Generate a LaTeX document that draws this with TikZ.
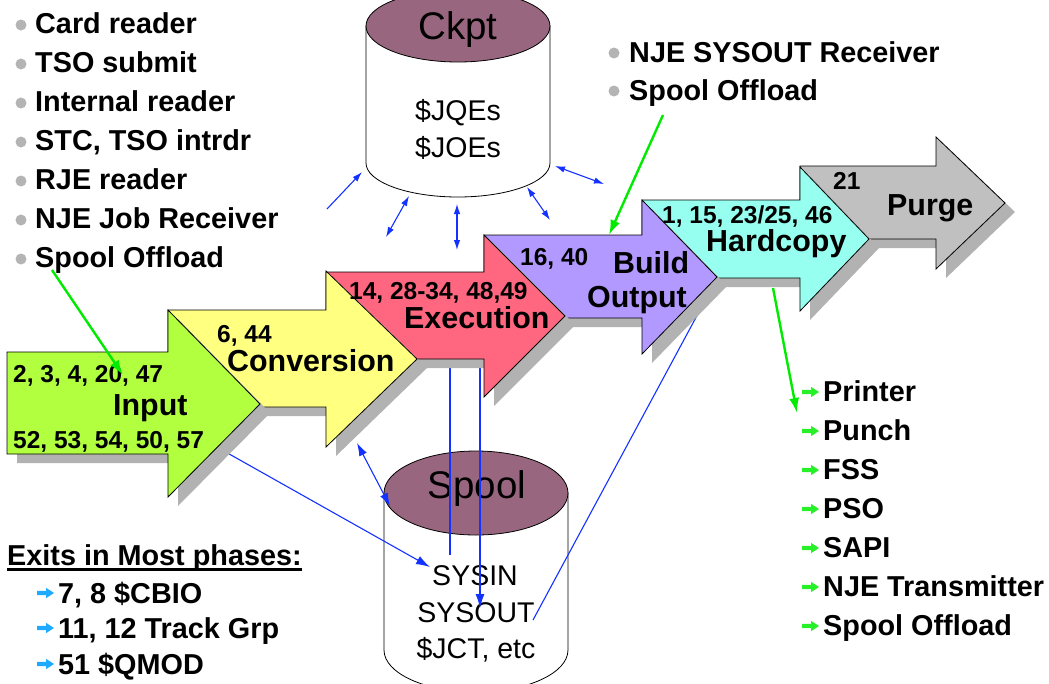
\documentclass[tikz,border=0pt]{standalone}
\usepackage{fontspec}
\setmainfont{Liberation Sans}
\usetikzlibrary{arrows.meta}
\definecolor{cInput}{RGB}{178,255,64}
\definecolor{cConv}{RGB}{255,255,128}
\definecolor{cExec}{RGB}{255,102,128}
\definecolor{cBuild}{RGB}{178,153,255}
\definecolor{cHard}{RGB}{150,255,240}
\definecolor{cPurge}{RGB}{192,192,192}
\definecolor{cShadow}{RGB}{178,178,178}
\definecolor{cCyl}{RGB}{153,102,128}
\definecolor{cBlue}{RGB}{20,50,255}
\definecolor{cGreen}{RGB}{0,235,0}
\definecolor{cIconG}{RGB}{40,240,40}
\definecolor{cIconB}{RGB}{30,170,255}
\definecolor{cDot}{RGB}{180,180,180}
\newcommand{\phasearrow}[2]{%
  \fill[cShadow, shift={(10,9)}] #2;
  \draw[fill=#1, line width=0.8pt] #2;
}
\newcommand{\iconarrow}[3]{%
  \fill[#1, shift={(#2,#3)}] (0,-2.2) -- (9,-2.2) -- (9,-5.2) -- (17,0) -- (9,5.2) -- (9,2.2) -- (0,2.2) -- cycle;
}
\begin{document}
\begin{tikzpicture}[x=1pt,y=-1pt,
  lab/.style={font=\fontsize{30.4}{32}\selectfont\bfseries, inner sep=0pt, anchor=base west},
  num/.style={font=\fontsize{24.5}{26}\selectfont\bfseries, inner sep=0pt, anchor=base west},
  item/.style={font=\fontsize{28.8}{30}\selectfont\bfseries, inner sep=0pt, anchor=base west},
  cyltext/.style={font=\fontsize{28.5}{30}\selectfont, inner sep=0pt, anchor=base},
  cyltitle/.style={font=\fontsize{38.5}{40}\selectfont, inner sep=0pt, anchor=base},
  dotmark/.style={fill=cDot, draw=none},
  bconn/.style={draw=cBlue, line width=1.1pt},
  bhead/.style={bconn, -{Latex[length=14pt,width=9pt]}},
  bsmall/.style={bconn, -{Latex[length=10pt,width=6.5pt]}},
  bboth/.style={bconn, {Latex[length=10pt,width=6.5pt]}-{Latex[length=10pt,width=6.5pt]}},
  bbothbig/.style={bconn, {Latex[length=13pt,width=8.5pt]}-{Latex[length=13pt,width=8.5pt]}},
  gconn/.style={draw=cGreen, line width=2.4pt, -{Latex[length=15pt,width=10pt]}},
]
\useasboundingbox (0,0) rectangle (1049,683);
\clip (0,0) rectangle (1049,683);

% ---------- cylinders ----------
\draw[fill=white, line width=0.8pt] (366,26) -- (366,163)
  arc[start angle=180, end angle=360, x radius=92pt, y radius=34pt] -- (550,26) -- cycle;
\draw[fill=cCyl, line width=0.8pt] (458,26) ellipse [x radius=92pt, y radius=36pt];
\node[cyltitle] (ckpt) at (458,39) {Ckpt};
\node[cyltext] (jqe) at (458,120) {\$JQEs};
\node[cyltext] (joe) at (458,157) {\$JOEs};

\draw[fill=white, line width=0.8pt] (384,493) -- (384,650)
  arc[start angle=180, end angle=360, x radius=92pt, y radius=42pt] -- (568,493) -- cycle;
\draw[fill=cCyl, line width=0.8pt] (476,493) ellipse [x radius=92pt, y radius=42pt];
\node[cyltitle] (spool) at (477,498) {Spool};
\node[cyltext] (sysin) at (475,585) {SYSIN};
\node[cyltext] (sysout) at (476,622) {SYSOUT};
\node[cyltext] (jct) at (476,658) {\$JCT, etc};

% ---------- blue connectors ----------
\coordinate (b1s) at (327,209); \coordinate (b1e) at (362,172);
\coordinate (b2s) at (386,237); \coordinate (b2e) at (409,196);
\coordinate (b3s) at (457,250); \coordinate (b3e) at (457,204);
\coordinate (b4s) at (527,187); \coordinate (b4e) at (550,220);
\coordinate (b5s) at (555,166); \coordinate (b5e) at (604,184);
\coordinate (b6s) at (357,443); \coordinate (b6e) at (390,506);
\coordinate (b7s) at (215,446); \coordinate (b7e) at (430,567);
\coordinate (b8s) at (450,350); \coordinate (b8e) at (450,555);
\coordinate (b9s) at (480,350); \coordinate (b9e) at (480,608);
\coordinate (b10s) at (533,620); \coordinate (b10e) at (700,310);
\draw[bsmall] (b1s) -- (b1e);
\draw[bboth] (b2s) -- (b2e);
\draw[bboth] (b3s) -- (b3e);
\draw[bboth] (b4s) -- (b4e);
\draw[bboth] (b5s) -- (b5e);
\draw[bbothbig] (b6s) -- (b6e);
\draw[bhead] (b7s) -- (b7e);
\draw[bconn] (b8s) -- (b8e);
\draw[bhead] (b9s) -- (b9e);
\draw[bconn] (b10s) -- (b10e);

% ---------- phase arrows (back to front) ----------
\phasearrow{cPurge}{(800,166) -- (936,166) -- (936,137) -- (1005,203) -- (936,269) -- (936,239) -- (800,239) -- cycle}
\phasearrow{cHard}{(642,200) -- (800,200) -- (800,167) -- (869,239) -- (800,311) -- (800,278) -- (642,278) -- cycle}
\phasearrow{cBuild}{(484,235) -- (642,235) -- (642,200) -- (717,277) -- (642,354) -- (642,318) -- (484,318) -- cycle}
\phasearrow{cExec}{(326,272) -- (484,272) -- (484,235) -- (565,316) -- (484,397) -- (484,359) -- (326,359) -- cycle}
\phasearrow{cConv}{(168,310) -- (326,310) -- (326,271) -- (417,359) -- (326,447) -- (326,407) -- (168,407) -- cycle}
\phasearrow{cInput}{(7,352) -- (168,352) -- (168,310) -- (260,404) -- (168,497) -- (168,454) -- (7,454) -- cycle}

% ---------- arrow labels ----------
\node[num] (in1) at (13,382) {2, 3, 4, 20, 47};
\node[lab] (in2) at (113,415) {Input};
\node[num] (in3) at (13,448) {52, 53, 54, 50, 57};
\node[num] (cv1) at (217,342) {6, 44};
\node[lab] (cv2) at (227,371) {Conversion};
\node[num] (ex1) at (349,299) {14, 28-34, 48,49};
\node[lab] (ex2) at (404,328) {Execution};
\node[num] (bo1) at (520,265) {16, 40};
\node[lab] (bo2) at (613,273) {Build};
\node[lab] (bo3) at (587,307) {Output};
\node[num] (hc1) at (662,223) {1, 15, 23/25, 46};
\node[lab] (hc2) at (706,251) {Hardcopy};
\node[num] (pg1) at (833,189) {21};
\node[lab] (pg2) at (887,215) {Purge};

% ---------- green connectors ----------
\coordinate (g1s) at (52,270); \coordinate (g1e) at (123,375);
\coordinate (g2s) at (663,115); \coordinate (g2e) at (609,235);
\coordinate (g3s) at (773,288); \coordinate (g3e) at (797,413);
\draw[gconn] (g1s) -- (g1e);
\draw[gconn] (g2s) -- (g2e);
\draw[gconn] (g3s) -- (g3e);

% ---------- left list ----------
\foreach \yb/\t [count=\i] in {33/Card reader, 72/TSO submit, 111/Internal reader, 150/{STC, TSO intrdr}, 189/RJE reader, 228/NJE Job Receiver, 267/Spool Offload}{
  \fill[dotmark] (21,\yb-8) circle[radius=5.5pt];
  \node[item] (left\i) at (35,\yb) {\t};
}

% ---------- top right list ----------
\fill[dotmark] (614,53) circle[radius=5.5pt];
\node[item] (tr1) at (629,62) {NJE SYSOUT Receiver};
\fill[dotmark] (614,91) circle[radius=5.5pt];
\node[item] (tr2) at (629,100) {Spool Offload};

% ---------- right output list ----------
\foreach \yb/\t [count=\i] in {401/Printer, 440/Punch, 479/FSS, 518/PSO, 557/SAPI, 596/NJE Transmitter, 635/Spool Offload}{
  \iconarrow{cIconG}{802}{\yb-9}
  \node[item] (out\i) at (823,\yb) {\t};
}

% ---------- exits ----------
\node[item] (exits) at (7,565) {Exits in Most phases:};
\draw[line width=2.5pt] ([yshift=-4.5pt]exits.base west) -- ([yshift=-4.5pt]exits.base east);
\iconarrow{cIconB}{37}{593}
\node[item] (exa) at (58,603) {7, 8 \$CBIO};
\iconarrow{cIconB}{37}{628}
\node[item] (exb) at (58,638) {11, 12 Track Grp};
\iconarrow{cIconB}{37}{664}
\node[item] (exc) at (58,674) {51 \$QMOD};
\end{tikzpicture}
\end{document}
